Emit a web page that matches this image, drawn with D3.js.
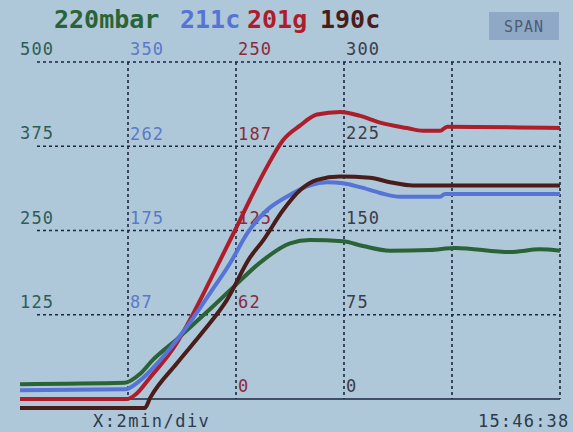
<!DOCTYPE html>
<html>
<head>
<meta charset="utf-8">
<script src="https://cdn.jsdelivr.net/npm/d3@7"></script>
<style>
  body { margin: 0; background: #aec7d9; }
  svg { display: block; }
  text { font-family: "DejaVu Sans Mono", "Liberation Mono", monospace; }
</style>
</head>
<body>
<div id="graphZone"></div>
<script>
/************************************ Data *******************************/
// time in minutes (2 min / div)
var greenTime  = [0, 1.94, 2.22, 2.46, 2.91, 3.46, 3.94, 4.44, 5.0, 5.37, 5.98, 6.35, 6.85, 7.59, 8.06, 9.07, 9.63, 10];
var greenValue = [22, 24, 37, 58, 89, 129, 165, 202, 231, 236, 234, 227, 220, 221, 224, 218, 222, 220];

var blueTime  = [0, 1.94, 2.22, 2.59, 3.09, 3.52, 3.89, 4.22, 4.57, 4.94, 5.37, 5.69, 5.98, 6.30, 6.67, 7.04, 7.78, 7.87, 10];
var blueValue = [9, 10, 19, 40, 75, 110, 141, 173, 196, 210, 222, 225, 224, 220, 214, 210, 210, 213, 213];

var redTime  = [0, 1.98, 2.13, 2.41, 2.91, 3.15, 3.52, 3.98, 4.26, 4.57, 4.87, 5.19, 5.50, 5.93, 6.30, 6.67, 7.17, 7.46, 7.78, 7.91, 10];
var redValue = [0, 0, 3, 16, 42, 59, 88, 125, 148, 172, 192, 203, 211, 213, 210, 205, 201, 199, 199, 202, 201];

var brownTime  = [0, 2.31, 2.41, 2.91, 3.39, 3.83, 4.26, 4.50, 4.87, 5.19, 5.50, 5.93, 6.48, 6.85, 7.28, 10];
var brownValue = [-8, -8, 1, 32, 60, 88, 126, 141, 168, 186, 195, 198, 197, 193, 190, 190];

// header readings and span of each channel
var seriesNames = ["220mbar", "211c", "201g", "190c"];
var seriesSpan  = [500, 350, 250, 300];
var seriesColor = ["#2a6436", "#5673d6", "#ad1d2a", "#4a1d1a"];
var labelColor  = ["#2f5d56", "#5b79c9", "#8c2a3c", "#3b3d4a"];

// tick labels per column
var greenTicks = [125, 250, 375, 500];
var blueTicks  = [87, 175, 262, 350];
var redTicks   = [0, 62, 125, 187, 250];
var brownTicks = [0, 75, 150, 225, 300];

var timeGrid = [2, 4, 6, 8, 10];
var divGrid  = [1, 2, 3, 4];

/************************************ Scales *******************************/
var W = 573, H = 432;
var x = d3.scaleLinear().domain([0, 10]).range([20, 560]);
var div = d3.scaleLinear().domain([0, 4]).range([399, 62]);
var yScales = seriesSpan.map(function(s) {
  return d3.scaleLinear().domain([0, s]).range([399, 62]);
});

var svg = d3.select("#graphZone").append("svg")
  .attr("width", W).attr("height", H);

svg.append("rect").attr("width", W).attr("height", H).attr("fill", "#aec7d9");

/************************************ Grid *******************************/
var grid = svg.append("g")
  .attr("stroke", "#1b2740")
  .attr("stroke-width", 1.6)
  .attr("stroke-dasharray", "3,3");

grid.selectAll("line.h").data(divGrid).enter().append("line")
  .attr("x1", 37).attr("x2", x(10))
  .attr("y1", function(d) { return div(d); })
  .attr("y2", function(d) { return div(d); });

grid.selectAll("line.v").data(timeGrid).enter().append("line")
  .attr("x1", function(d) { return x(d); })
  .attr("x2", function(d) { return x(d); })
  .attr("y1", div(4)).attr("y2", div(0));

// zero line
svg.append("line")
  .attr("x1", x(0)).attr("x2", x(10))
  .attr("y1", div(0)).attr("y2", div(0))
  .attr("stroke", "#1b2740").attr("stroke-width", 1.6);

/************************************ Tick labels *******************************/
var columns = [
  { ticks: greenTicks, t: 0 },
  { ticks: blueTicks,  t: 2 },
  { ticks: redTicks,   t: 4 },
  { ticks: brownTicks, t: 6 }
];
columns.forEach(function(c, i) {
  svg.append("g").selectAll("text").data(c.ticks).enter().append("text")
    .attr("x", x(c.t) + (i == 0 ? 0 : 2))
    .attr("y", function(d) { return yScales[i](d) - 7; })
    .attr("fill", labelColor[i])
    .attr("font-size", 17)
    .attr("letter-spacing", 1.2)
    .text(function(d) { return d; });
});

/************************************ Traces *******************************/
var traces = [
  { time: greenTime, value: greenValue },
  { time: redTime,   value: redValue },
  { time: blueTime,  value: blueValue },
  { time: brownTime, value: brownValue }
];
var order = [0, 2, 1, 3];
traces.forEach(function(tr, k) {
  var i = order[k];
  var pts = tr.time.map(function(t, j) { return [t, tr.value[j]]; });
  var line = d3.line()
    .x(function(d) { return x(d[0]); })
    .y(function(d) { return yScales[i](d[1]); })
    .curve(d3.curveMonotoneX);
  svg.append("path")
    .attr("d", line(pts))
    .attr("fill", "none")
    .attr("stroke", seriesColor[i])
    .attr("stroke-width", 4);
});

/************************************ Header *******************************/
var headerX = [54, 180, 247, 320];
seriesNames.forEach(function(n, i) {
  svg.append("text")
    .attr("x", headerX[i]).attr("y", 28)
    .attr("fill", seriesColor[i])
    .attr("font-size", 25)
    .attr("font-weight", "bold")
    .text(n);
});

svg.append("rect")
  .attr("x", 489).attr("y", 12).attr("width", 70).attr("height", 28)
  .attr("fill", "#8ea8c6");
svg.append("text")
  .attr("x", 524).attr("y", 32)
  .attr("text-anchor", "middle")
  .attr("fill", "#4b5d72")
  .attr("font-size", 15)
  .attr("letter-spacing", 1)
  .text("SPAN");

/************************************ Footer *******************************/
svg.append("text")
  .attr("x", 93).attr("y", 427)
  .attr("fill", "#2c3b4e")
  .attr("font-size", 17)
  .attr("letter-spacing", 1.5)
  .text("X:2min/div");

svg.append("text")
  .attr("x", 478).attr("y", 427)
  .attr("fill", "#2c3b4e")
  .attr("font-size", 17)
  .attr("letter-spacing", 1.2)
  .text("15:46:38");
</script>
</body>
</html>
